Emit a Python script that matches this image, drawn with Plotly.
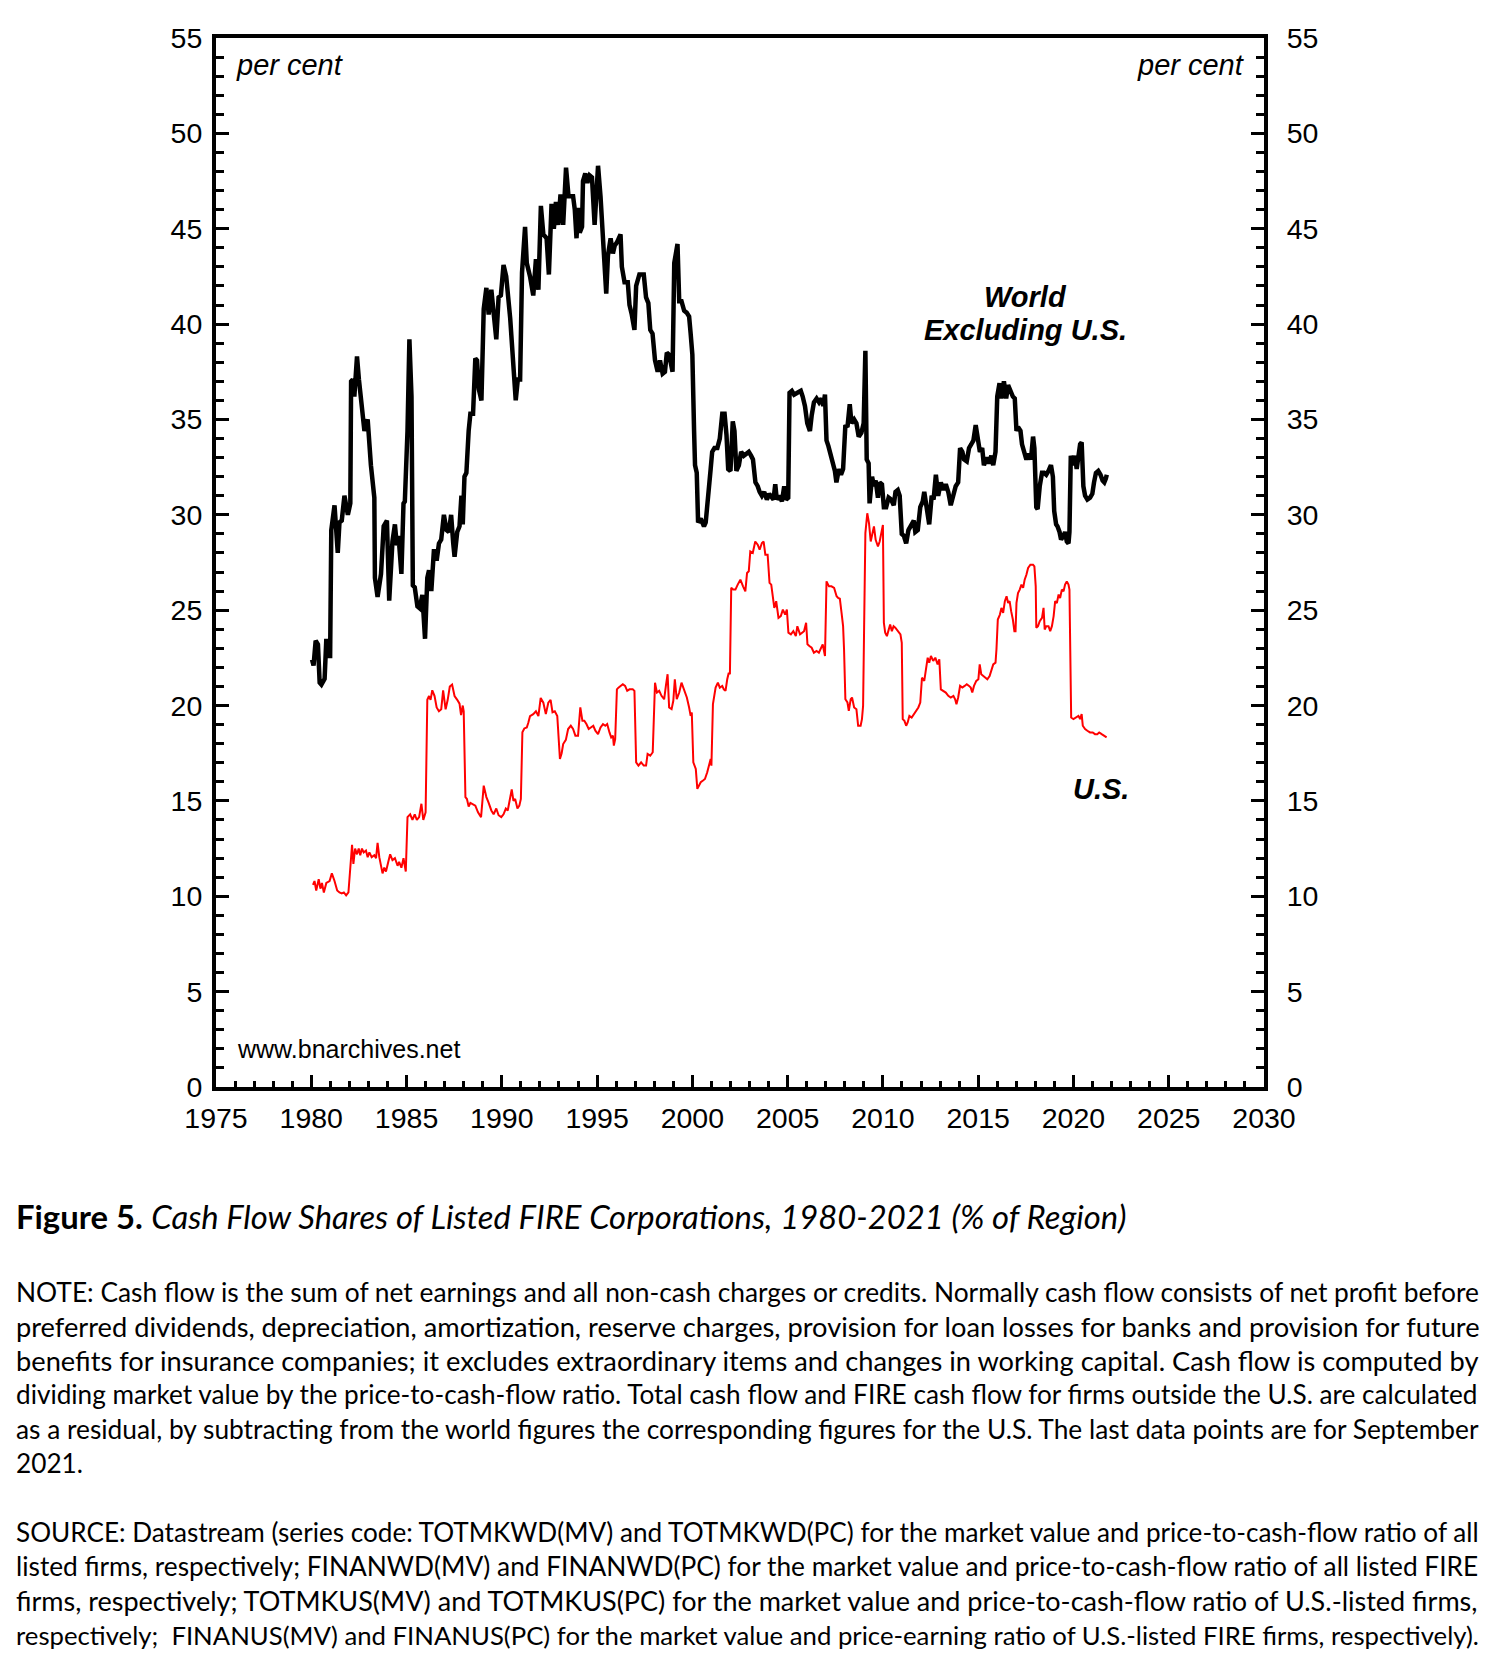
import plotly.graph_objects as go

# ---------------- data ----------------
wxus_years = [1980.04,1980.12,1980.23,1980.35,1980.44,1980.53,1980.70,1980.79,1980.90,1980.99,
1981.05,1981.22,1981.39,1981.48,1981.60,1981.74,1981.92,1982.05,1982.09,1982.18,1982.26,1982.40,
1982.50,1982.70,1982.79,1982.96,1983.13,1983.31,1983.34,1983.48,1983.66,1983.80,1983.97,1984.09,
1984.26,1984.39,1984.49,1984.58,1984.73,1984.84,1984.91,1985.05,1985.15,1985.26,1985.33,1985.43,
1985.57,1985.69,1985.83,1985.97,1986.09,1986.18,1986.30,1986.44,1986.58,1986.70,1986.82,1986.96,
1987.10,1987.22,1987.34,1987.45,1987.52,1987.66,1987.78,1987.88,1987.95,1988.04,1988.14,1988.26,
1988.35,1988.49,1988.61,1988.70,1988.79,1988.93,1989.05,1989.19,1989.31,1989.45,1989.57,1989.71,
1989.83,1989.95,1990.09,1990.23,1990.44,1990.58,1990.73,1990.84,1990.96,1991.06,1991.22,1991.31,
1991.48,1991.65,1991.79,1991.92,1992.05,1992.18,1992.35,1992.47,1992.61,1992.73,1992.84,1992.96,
1993.08,1993.22,1993.37,1993.50,1993.74,1993.83,1993.92,1994.00,1994.09,1994.21,1994.26,1994.38,
1994.49,1994.61,1994.73,1994.87,1995.05,1995.18,1995.31,1995.39,1995.48,1995.57,1995.71,1995.83,
1995.92,1996.05,1996.23,1996.30,1996.44,1996.61,1996.70,1996.82,1996.96,1997.05,1997.22,1997.45,
1997.57,1997.69,1997.79,1997.91,1998.04,1998.18,1998.30,1998.44,1998.56,1998.66,1998.78,1998.96,
1999.05,1999.22,1999.31,1999.43,1999.57,1999.70,1999.83,1999.91,2000.00,2000.09,2000.14,2000.23,
2000.30,2000.44,2000.61,2000.70,2000.78,2000.96,2001.04,2001.16,2001.31,2001.44,2001.57,2001.69,
2001.79,2001.88,2002.00,2002.12,2002.21,2002.31,2002.44,2002.56,2002.70,2002.83,2002.96,2003.08,
2003.18,2003.31,2003.43,2003.53,2003.65,2003.77,2003.91,2004.03,2004.13,2004.26,2004.35,2004.43,
2004.57,2004.70,2004.82,2004.92,2005.03,2005.10,2005.22,2005.34,2005.51,2005.69,2005.79,2005.91,
2006.03,2006.17,2006.26,2006.38,2006.52,2006.65,2006.78,2006.87,2006.96,2007.04,2007.14,2007.27,
2007.39,2007.48,2007.56,2007.69,2007.80,2007.91,2008.03,2008.14,2008.26,2008.35,2008.49,2008.61,
2008.73,2008.87,2008.99,2009.08,2009.15,2009.25,2009.30,2009.43,2009.53,2009.62,2009.74,2009.83,
2009.95,2010.05,2010.17,2010.30,2010.43,2010.57,2010.66,2010.78,2010.88,2010.99,2011.10,2011.22,
2011.34,2011.48,2011.62,2011.70,2011.83,2011.96,2012.09,2012.17,2012.31,2012.43,2012.56,2012.66,
2012.78,2012.90,2013.04,2013.18,2013.30,2013.43,2013.56,2013.70,2013.82,2013.95,2014.05,2014.17,
2014.26,2014.40,2014.52,2014.64,2014.75,2014.87,2014.96,2015.09,2015.21,2015.30,2015.44,2015.56,
2015.69,2015.79,2015.91,2016.00,2016.12,2016.22,2016.35,2016.47,2016.57,2016.69,2016.82,2016.92,
2017.01,2017.09,2017.22,2017.30,2017.43,2017.53,2017.65,2017.77,2017.88,2017.95,2018.05,2018.12,
2018.23,2018.35,2018.46,2018.57,2018.69,2018.82,2018.92,2018.99,2019.09,2019.16,2019.27,2019.35,
2019.48,2019.56,2019.65,2019.74,2019.79,2019.86,2019.96,2020.08,2020.17,2020.26,2020.35,2020.43,
2020.52,2020.61,2020.73,2020.87,2020.99,2021.08,2021.18,2021.30,2021.42,2021.53,2021.62,2021.70,
2021.75]
wxus_share = [22.4,22.1,23.4,23.2,21.2,21.1,21.4,23.5,22.6,22.6,
29.2,30.5,28.0,29.6,29.7,31.0,30.0,30.6,37.0,37.1,36.2,38.3,
37.1,35.5,34.4,35.0,32.6,30.9,26.7,25.7,26.9,29.4,29.7,25.5,
28.6,29.5,28.4,28.9,26.9,30.6,30.7,34.4,39.2,36.2,26.3,26.2,
25.2,25.1,25.8,23.5,26.7,27.1,26.0,28.2,27.6,28.5,28.7,30.0,
29.2,29.1,30.0,28.5,27.8,29.1,29.4,31.0,29.5,32.0,32.2,34.4,
35.3,35.3,38.2,38.1,36.6,36.0,40.8,41.9,40.5,41.8,40.3,39.2,
41.4,41.5,43.1,42.5,40.3,38.2,36.0,37.1,37.1,42.7,45.1,43.2,
42.5,41.5,43.4,41.8,46.2,44.7,44.5,42.6,46.3,45.0,46.4,45.2,
46.8,45.2,48.2,46.7,46.7,46.0,44.5,46.1,44.8,45.1,47.5,47.9,
47.4,47.8,47.7,45.2,48.3,46.7,44.7,43.2,41.6,43.6,44.5,43.7,
44.1,44.3,44.7,43.0,42.2,42.2,41.0,40.5,39.7,42.0,42.6,42.6,
41.4,41.1,39.7,39.5,38.1,37.5,38.1,37.4,37.5,38.5,38.4,37.5,
43.2,44.2,41.2,41.2,40.7,40.6,40.4,39.5,38.4,34.4,32.6,32.2,
29.6,29.8,29.4,29.6,30.7,32.4,33.3,33.5,33.5,34.0,35.3,35.3,
34.2,32.4,32.3,34.9,34.4,32.3,32.6,33.3,33.1,33.2,33.3,33.1,
32.9,31.7,31.5,31.2,31.0,31.2,30.8,31.1,31.0,30.8,31.6,30.8,
31.0,30.7,31.5,30.8,30.9,36.4,36.5,36.3,36.4,36.5,36.2,35.7,
34.8,34.4,35.2,35.9,36.1,35.9,36.1,35.7,36.3,33.9,33.6,33.1,
32.8,32.3,31.7,32.4,32.1,32.4,34.7,34.6,35.8,34.8,35.0,34.8,
34.1,34.3,34.8,38.6,32.9,32.7,30.6,32.0,31.5,31.8,30.9,31.7,
31.6,30.4,30.4,30.9,30.8,30.5,31.2,31.3,31.0,29.0,28.9,28.5,
29.2,29.4,29.7,29.1,29.2,30.4,30.7,31.2,30.2,29.5,31.0,30.8,
32.1,31.0,31.7,31.3,31.6,31.2,30.5,31.0,31.5,31.7,33.5,33.3,
32.9,32.8,33.5,33.7,33.9,34.7,34.0,33.3,33.5,32.6,33.0,32.7,
33.1,32.6,33.3,36.2,36.9,36.1,37.0,36.1,36.8,36.5,36.2,36.1,
34.4,34.6,34.4,33.7,33.1,32.9,33.2,32.9,34.1,33.5,30.4,30.3,
31.5,32.2,32.2,32.1,32.3,32.6,32.0,30.2,29.5,29.4,29.1,28.7,
28.9,29.1,28.6,28.5,29.1,33.1,32.6,33.1,32.4,32.9,33.7,33.8,
31.5,31.0,30.8,30.9,31.1,31.7,32.2,32.3,32.1,31.8,31.7,31.9,
32.1]

us_years = [1980.09,1980.17,1980.26,1980.39,1980.48,1980.56,1980.66,1980.79,1980.96,1981.08,
1981.22,1981.36,1981.48,1981.60,1981.71,1981.83,1981.95,1982.06,1982.14,1982.21,1982.30,1982.40,
1982.49,1982.57,1982.66,1982.75,1982.87,1982.96,1983.05,1983.17,1983.31,1983.40,1983.48,1983.57,
1983.69,1983.74,1983.83,1983.92,1984.04,1984.14,1984.26,1984.39,1984.53,1984.61,1984.73,1984.84,
1984.96,1985.05,1985.19,1985.31,1985.43,1985.54,1985.66,1985.78,1985.88,1986.00,1986.09,1986.18,
1986.26,1986.35,1986.47,1986.58,1986.70,1986.82,1986.92,1987.05,1987.16,1987.27,1987.39,1987.52,
1987.66,1987.78,1987.86,1987.95,1988.00,1988.09,1988.17,1988.26,1988.35,1988.47,1988.61,1988.75,
1988.91,1989.05,1989.19,1989.31,1989.45,1989.57,1989.71,1989.83,1989.97,1990.09,1990.21,1990.31,
1990.44,1990.52,1990.61,1990.70,1990.82,1990.92,1991.00,1991.08,1991.18,1991.31,1991.39,1991.48,
1991.65,1991.79,1991.92,1992.04,1992.18,1992.31,1992.44,1992.56,1992.66,1992.78,1992.91,1993.05,
1993.14,1993.22,1993.36,1993.48,1993.62,1993.74,1993.86,1994.00,1994.12,1994.23,1994.33,1994.44,
1994.56,1994.70,1994.80,1994.91,1995.05,1995.18,1995.31,1995.43,1995.53,1995.65,1995.74,1995.83,
1995.88,1995.95,1996.04,1996.12,1996.23,1996.35,1996.47,1996.58,1996.70,1996.87,1996.96,1997.05,
1997.17,1997.31,1997.45,1997.57,1997.65,1997.79,1997.92,1998.04,1998.14,1998.26,1998.38,1998.52,
1998.61,1998.70,1998.78,1998.91,1999.00,1999.08,1999.18,1999.31,1999.43,1999.57,1999.71,1999.83,
1999.91,1999.97,2000.05,2000.18,2000.26,2000.35,2000.44,2000.56,2000.66,2000.78,2000.87,2000.96,
2001.00,2001.08,2001.22,2001.34,2001.44,2001.57,2001.65,2001.74,2001.83,2001.91,2001.97,2002.04,
2002.14,2002.26,2002.38,2002.52,2002.66,2002.78,2002.87,2002.96,2003.04,2003.17,2003.30,2003.43,
2003.53,2003.65,2003.74,2003.83,2003.95,2004.05,2004.14,2004.23,2004.30,2004.40,2004.52,2004.64,
2004.75,2004.87,2004.96,2005.04,2005.17,2005.30,2005.43,2005.51,2005.65,2005.76,2005.86,2005.97,
2006.04,2006.14,2006.26,2006.38,2006.52,2006.64,2006.73,2006.84,2006.96,2007.04,2007.17,2007.30,
2007.44,2007.57,2007.65,2007.74,2007.83,2007.91,2007.96,2008.03,2008.14,2008.21,2008.31,2008.38,
2008.49,2008.61,2008.70,2008.83,2008.90,2008.96,2009.01,2009.08,2009.18,2009.27,2009.36,2009.44,
2009.53,2009.62,2009.74,2009.83,2009.95,2010.00,2010.05,2010.12,2010.21,2010.30,2010.38,2010.47,
2010.56,2010.65,2010.78,2010.92,2010.99,2011.04,2011.13,2011.22,2011.30,2011.39,2011.51,2011.62,
2011.74,2011.86,2011.96,2012.05,2012.17,2012.26,2012.35,2012.43,2012.52,2012.64,2012.75,2012.87,
2012.96,2013.04,2013.16,2013.30,2013.43,2013.56,2013.70,2013.79,2013.86,2013.95,2014.05,2014.17,
2014.29,2014.40,2014.52,2014.61,2014.69,2014.78,2014.90,2015.01,2015.08,2015.16,2015.27,2015.39,
2015.48,2015.60,2015.69,2015.79,2015.91,2015.96,2016.03,2016.14,2016.22,2016.31,2016.40,2016.49,
2016.57,2016.65,2016.73,2016.82,2016.90,2016.96,2017.01,2017.09,2017.18,2017.27,2017.36,2017.44,
2017.53,2017.62,2017.74,2017.88,2017.95,2018.02,2018.05,2018.14,2018.23,2018.35,2018.43,2018.49,
2018.57,2018.69,2018.78,2018.87,2018.96,2019.04,2019.13,2019.22,2019.30,2019.39,2019.48,2019.56,
2019.65,2019.74,2019.79,2019.88,2020.00,2020.14,2020.26,2020.35,2020.43,2020.49,2020.61,2020.73,
2020.87,2021.01,2021.13,2021.25,2021.35,2021.48,2021.60,2021.74]
us_share = [10.6,10.8,10.3,10.9,10.4,10.7,10.2,10.7,10.8,11.2,
10.8,10.3,10.2,10.15,10.2,10.05,10.2,11.6,12.7,11.7,12.5,12.2,
12.5,12.15,12.5,12.3,12.4,12.05,12.3,12.05,12.15,12.0,12.8,12.05,
11.5,11.2,11.5,11.3,11.8,12.2,11.9,12.0,11.6,11.8,11.5,12.0,
11.3,14.15,14.3,14.0,14.3,14.0,14.15,14.85,14.0,14.4,20.3,20.5,
20.3,20.8,20.5,19.9,19.7,19.8,20.8,19.8,20.3,21.0,21.1,20.5,
20.3,20.1,19.5,20.0,19.7,15.2,15.1,14.7,14.9,14.85,14.75,14.4,
14.15,15.8,15.2,14.9,14.5,14.3,14.6,14.25,14.15,14.3,14.6,14.5,
15.1,15.6,15.0,15.1,14.6,14.75,15.1,18.6,18.8,18.85,19.1,19.45,
19.55,19.7,19.45,20.4,20.15,19.55,20.15,20.3,19.65,19.7,19.45,17.2,
17.5,17.98,18.2,18.77,18.94,18.77,18.42,18.42,19.9,19.2,19.2,19.03,
18.77,18.85,18.94,18.68,18.5,18.85,19.03,18.94,19.03,18.59,18.33,18.42,
17.9,18.24,20.85,20.94,21.03,21.12,21.03,20.77,20.85,20.85,20.77,17.02,
16.85,17.02,16.85,16.85,17.46,17.37,17.55,21.2,20.68,20.77,20.51,20.33,
21.03,21.64,19.9,19.81,20.25,21.38,20.33,20.68,21.2,20.85,20.42,19.9,
19.46,19.64,17.02,16.68,15.63,15.81,15.98,16.07,16.15,16.5,16.85,17.2,
16.85,20.07,20.94,21.2,20.94,21.03,20.85,20.77,21.38,21.72,21.64,26.17,
26.08,26.08,26.34,26.6,26.25,25.99,26.95,27.04,28.08,28.0,28.6,28.43,
28.17,28.52,28.6,27.91,27.91,26.43,26.34,25.64,25.12,25.47,24.6,24.69,
25.03,24.77,25.03,23.82,23.73,23.9,23.64,24.16,23.73,23.82,23.9,24.34,
23.21,23.12,23.03,22.77,22.86,22.77,22.94,23.21,22.6,26.51,26.25,26.25,
26.17,25.73,25.64,25.6,24.86,24.16,22.95,20.33,20.16,19.72,20.33,20.42,
19.9,19.81,18.94,18.94,19.29,19.98,23.82,29.04,30.08,29.56,28.6,29.04,
29.39,28.69,28.34,28.6,29.39,29.47,24.34,23.82,23.64,23.99,24.25,23.9,
24.16,24.08,23.9,23.73,23.29,19.29,19.2,18.94,19.11,19.46,19.37,19.55,
19.72,19.9,20.16,21.46,21.29,21.99,22.51,22.25,22.6,22.34,22.51,22.16,
22.42,20.85,20.77,20.68,20.51,20.42,20.51,20.33,20.07,20.42,21.03,20.94,
21.03,21.12,21.03,20.94,20.68,21.03,21.29,21.38,22.16,21.64,21.55,21.46,
21.38,21.55,21.9,22.16,22.25,22.95,24.51,24.77,25.12,24.86,25.47,25.73,
25.38,25.47,24.95,24.51,23.9,23.9,25.38,25.9,26.08,26.34,26.17,26.6,
26.86,27.21,27.38,27.38,27.3,26.25,24.08,24.16,24.42,24.6,25.12,23.99,
24.16,24.16,23.9,24.16,24.69,25.47,25.38,25.82,25.64,26.08,25.99,26.34,
26.51,26.34,26.08,19.37,19.29,19.37,19.46,19.29,19.55,18.94,18.77,18.68,
18.59,18.59,18.5,18.5,18.59,18.5,18.42,18.33]

x_range = [1975, 2030]
y_range = [0, 55]

caption_bold = "Figure 5."
caption_italic = "Cash Flow Shares of Listed FIRE Corporations, 1980-2021 (% of Region)"
note_lines = [
    "NOTE: Cash flow is the sum of net earnings and all non-cash charges or credits. Normally cash flow consists of net profit before",
    "preferred dividends, depreciation, amortization, reserve charges, provision for loan losses for banks and provision for future",
    "benefits for insurance companies; it excludes extraordinary items and changes in working capital. Cash flow is computed by",
    "dividing market value by the price-to-cash-flow ratio. Total cash flow and FIRE cash flow for firms outside the U.S. are calculated",
    "as a residual, by subtracting from the world figures the corresponding figures for the U.S. The last data points are for September",
    "2021.",
]
source_lines = [
    "SOURCE: Datastream (series code: TOTMKWD(MV) and TOTMKWD(PC) for the market value and price-to-cash-flow ratio of all",
    "listed firms, respectively; FINANWD(MV) and FINANWD(PC) for the market value and price-to-cash-flow ratio of all listed FIRE",
    "firms, respectively; TOTMKUS(MV) and TOTMKUS(PC) for the market value and price-to-cash-flow ratio of U.S.-listed firms,",
    "respectively;  FINANUS(MV) and FINANUS(PC) for the market value and price-earning ratio of U.S.-listed FIRE firms, respectively).",
]

# ---------------- layout geometry / styling ----------------
OFF = 8                      # page body margin of the html file
W_PAGE, H_PAGE = 1510, 1665
W_FIG, H_FIG = W_PAGE - OFF, H_PAGE - OFF
L, R, T, B = 216, 1264, 38, 1087   # plot area, page pixels
PW, PH = R - L, B - T

def px(xp):
    return (xp - L) / PW

def py(yp):
    return (B - yp) / PH

AX_FONT = "Liberation Sans, Arial, sans-serif"
TXT_FONT = "Lato, sans-serif"
BASE_TXT = 26.2
# per-line size factors so each full line spans the justified width
note_fit = [1.005, 1.04, 1.04, 0.999, 1.004, 1.0]
source_fit = [0.998, 1.003, 1.031, 0.982]

fig = go.Figure()
fig.add_trace(go.Scatter(x=wxus_years, y=wxus_share, mode="lines",
                         line=dict(color="black", width=4.5), hoverinfo="skip",
                         showlegend=False))
fig.add_trace(go.Scatter(x=us_years, y=us_share, mode="lines",
                         line=dict(color="#ff0000", width=2), hoverinfo="skip",
                         showlegend=False))
# invisible trace so the right-hand axis is drawn
fig.add_trace(go.Scatter(x=[x_range[0]], y=[y_range[0]], yaxis="y2", mode="markers",
                         marker=dict(opacity=0), hoverinfo="skip", showlegend=False))

axis_common = dict(showgrid=False, zeroline=False, ticks="inside", tickcolor="black",
                   tickfont=dict(family=AX_FONT, size=28.5, color="black"),
                   linecolor="black", linewidth=4)

fig.update_layout(
    width=W_FIG, height=H_FIG,
    margin=dict(l=L - OFF, r=W_FIG - (R - OFF), t=T - OFF, b=H_FIG - (B - OFF), pad=0),
    paper_bgcolor="white", plot_bgcolor="white",
    xaxis=dict(range=x_range, tick0=1975, dtick=5, ticklen=12, tickwidth=3,
               showline=True, mirror=True, ticklabelstandoff=3,
               minor=dict(dtick=1, ticks="inside", ticklen=6, tickwidth=2.5,
                          tickcolor="black", showgrid=False),
               **axis_common),
    yaxis=dict(range=y_range, tick0=0, dtick=5, ticklen=13, tickwidth=3,
               showline=True, mirror=False, ticklabelstandoff=4,
               minor=dict(dtick=1, ticks="inside", ticklen=8, tickwidth=2.5,
                          tickcolor="black", showgrid=False),
               **axis_common),
    yaxis2=dict(range=y_range, tick0=0, dtick=5, ticklen=13, tickwidth=3,
                overlaying="y", side="right", showline=True, ticklabelstandoff=13,
                minor=dict(dtick=1, ticks="inside", ticklen=8, tickwidth=2.5,
                           tickcolor="black", showgrid=False),
                **axis_common),
)

ann = []
ann.append(dict(text="<i>per cent</i>", x=px(234), y=py(65), xanchor="left", yanchor="middle",
                font=dict(family=AX_FONT, size=29, color="black")))
ann.append(dict(text="<i>per cent</i>", x=px(1247), y=py(65), xanchor="right", yanchor="middle",
                font=dict(family=AX_FONT, size=29, color="black")))
ann.append(dict(text="<b><i>World</i></b>", x=px(1025), y=py(297), xanchor="center", yanchor="middle",
                font=dict(family=AX_FONT, size=29, color="black")))
ann.append(dict(text="<b><i>Excluding U.S.</i></b>", x=px(1025), y=py(330), xanchor="center", yanchor="middle",
                font=dict(family=AX_FONT, size=29, color="black")))
ann.append(dict(text="<b><i>U.S.</i></b>", x=px(1101), y=py(789), xanchor="center", yanchor="middle",
                font=dict(family=AX_FONT, size=29, color="black")))
ann.append(dict(text="www.bnarchives.net", x=px(235), y=py(1049), xanchor="left", yanchor="middle",
                font=dict(family=AX_FONT, size=25, color="black")))

# caption and notes
ann.append(dict(text="<b>" + caption_bold + "</b> <i>" + caption_italic + "</i>",
                x=px(14), y=py(1216), xanchor="left", yanchor="middle",
                font=dict(family=TXT_FONT, size=32.8, color="black")))
note_y = [1292, 1326, 1360, 1394, 1429, 1463]
for line, yy, f in zip(note_lines, note_y, note_fit):
    ann.append(dict(text=line, x=px(14), y=py(yy), xanchor="left", yanchor="middle",
                    font=dict(family=TXT_FONT, size=BASE_TXT * f, color="black")))
source_y = [1532, 1566, 1600, 1635]
for line, yy, f in zip(source_lines, source_y, source_fit):
    ann.append(dict(text=line, x=px(14), y=py(yy), xanchor="left", yanchor="middle",
                    font=dict(family=TXT_FONT, size=BASE_TXT * f, color="black")))

for a in ann:
    a.update(xref="paper", yref="paper", showarrow=False)
fig.update_layout(annotations=ann)

fig.write_html("out.html")
